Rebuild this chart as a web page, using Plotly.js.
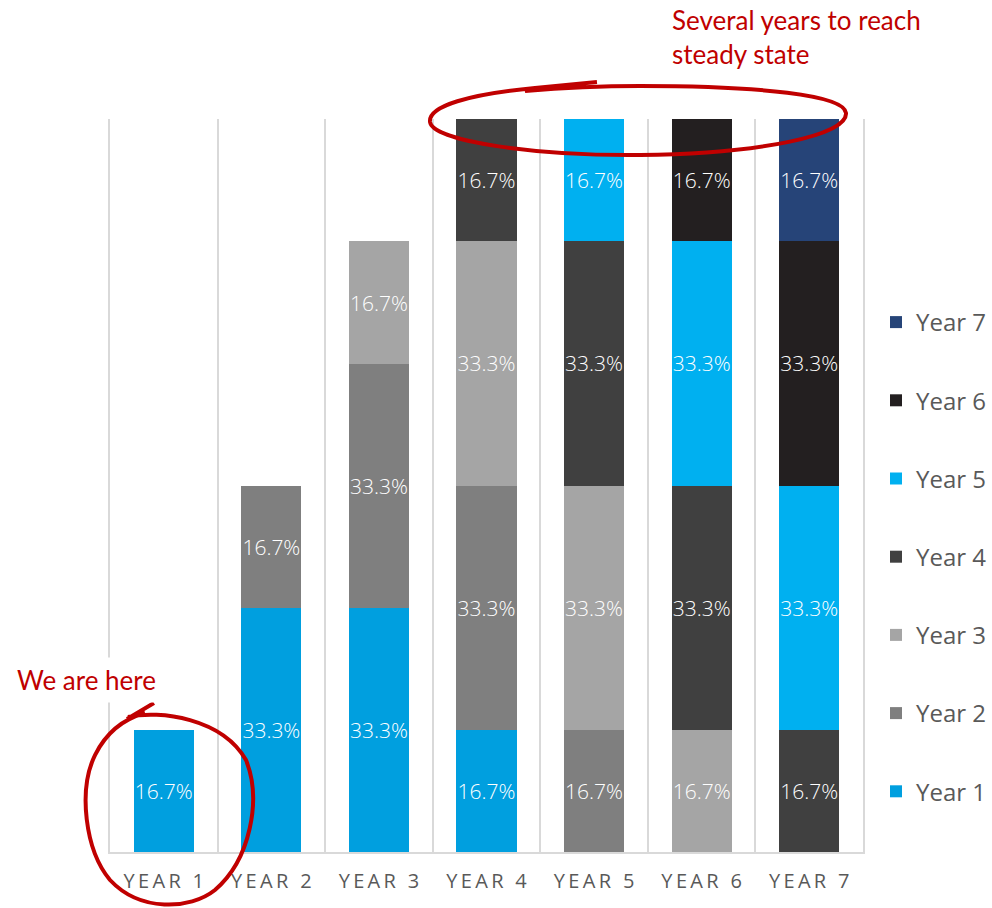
<!DOCTYPE html>
<html>
<head>
<meta charset="utf-8">
<script src="https://cdn.plot.ly/plotly-3.0.1.min.js"></script>
<style>
  html, body { margin: 0; padding: 0; background: #ffffff; }
  #chart { width: 992px; height: 908px; }
</style>
</head>
<body>
<div id="chart"></div>
<script>
// Categories along the x axis
const categories = ['YEAR 1', 'YEAR 2', 'YEAR 3', 'YEAR 4', 'YEAR 5', 'YEAR 6', 'YEAR 7'];

// Share (%) contributed by each cohort in each year; null = no contribution
const year1 = [16.7, 33.3, 33.3, 16.7, null, null, null];
const year2 = [null, 16.7, 33.3, 33.3, 16.7, null, null];
const year3 = [null, null, 16.7, 33.3, 33.3, 16.7, null];
const year4 = [null, null, null, 16.7, 33.3, 33.3, 16.7];
const year5 = [null, null, null, null, 16.7, 33.3, 33.3];
const year6 = [null, null, null, null, null, 16.7, 33.3];
const year7 = [null, null, null, null, null, null, 16.7];

const seriesNames = ['Year 1', 'Year 2', 'Year 3', 'Year 4', 'Year 5', 'Year 6', 'Year 7'];
const seriesValues = [year1, year2, year3, year4, year5, year6, year7];
const seriesColors = ['#009FDF', '#7F7F7F', '#A5A5A5', '#404040', '#00B0F0', '#231F20', '#264478'];

// Spaced-out tick text for the category labels
const tickText = categories.map(c => c.split('').join('\u2009'));

const labelFont = 'Open Sans, Lato, sans-serif';
const handFont = 'Segoe Print, Comic Sans MS, Lato, cursive';

const traces = seriesNames.map((name, i) => ({
  type: 'bar',
  name: name,
  x: categories,
  y: seriesValues[i],
  marker: { color: seriesColors[i], line: { width: 0 } },
  text: seriesValues[i].map(v => v === null ? '' : v.toFixed(1) + '%'),
  texttemplate: '%{text}',
  textposition: 'inside',
  insidetextanchor: 'middle',
  textangle: 0,
  constraintext: 'none',
  insidetextfont: { family: labelFont, size: 21, color: '#ffffff', weight: 300 },
  legendgroup: name,
  legendrank: 100 - i,   // newest cohort listed first
  hoverinfo: 'skip'
}));

// Plot-area geometry (pixels) used to place the hand-drawn circles
const W = 992, H = 908;
const M = { l: 110, r: 129, t: 119, b: 56 };
const pw = W - M.l - M.r, ph = H - M.t - M.b;
const px = x => ((x - M.l) / pw).toFixed(4);
const py = y => ((H - M.b - y) / ph).toFixed(4);
function pathFrom(cmds) {
  return cmds.map(c => {
    const op = c[0];
    const pts = [];
    for (let k = 1; k < c.length; k += 2) pts.push(px(c[k]) + ',' + py(c[k + 1]));
    return op + ' ' + pts.join(' ');
  }).join(' ');
}

const ringTop = pathFrom([
  ['M', 597, 82], ['L', 535, 88],
  ['C', 470, 94, 428, 106, 430, 122],
  ['C', 433, 142, 540, 156, 640, 155],
  ['C', 760, 154, 848, 135, 846, 113],
  ['C', 844, 95, 760, 86, 640, 86],
  ['C', 600, 86, 560, 88, 525, 91]
]);
const ringHere = pathFrom([
  ['M', 154, 703], ['L', 127, 719],
  ['M', 128, 717],
  ['C', 160, 710, 222, 718, 246, 760],
  ['C', 262, 800, 250, 860, 215, 890],
  ['C', 190, 910, 140, 912, 110, 880],
  ['C', 85, 850, 78, 790, 95, 755],
  ['C', 105, 735, 120, 720, 145, 713]
]);

const layout = {
  width: W,
  height: H,
  margin: Object.assign({ autoexpand: false }, M),
  paper_bgcolor: '#ffffff',
  plot_bgcolor: '#ffffff',
  barmode: 'stack',
  bargap: 0.44,
  showlegend: true,
  legend: {
    xref: 'container', yref: 'container',
    x: 876 / W, xanchor: 'left',
    y: 1 - 557 / H, yanchor: 'middle',
    maxheight: 900,
    traceorder: 'grouped',
    tracegroupgap: 44,
    font: { family: labelFont, size: 24, color: '#595959' },
    itemwidth: 30,
    bgcolor: 'rgba(0,0,0,0)'
  },
  xaxis: {
    type: 'category',
    tickmode: 'array',
    tickvals: categories,
    ticktext: tickText,
    tickson: 'boundaries',
    ticks: '',
    showgrid: true,
    gridcolor: '#D9D9D9',
    gridwidth: 2,
    showline: true,
    linecolor: '#D9D9D9',
    linewidth: 2,
    ticklabelstandoff: 10,
    tickfont: { family: labelFont, size: 20, color: '#595959' },
    zeroline: false,
    fixedrange: true
  },
  yaxis: {
    range: [0, 100],
    showticklabels: false,
    ticks: '',
    showgrid: false,
    zeroline: false,
    showline: true,
    mirror: true,
    linecolor: '#D9D9D9',
    linewidth: 2,
    fixedrange: true
  },
  shapes: [
    { type: 'path', xref: 'paper', yref: 'paper', path: ringTop,
      line: { color: '#C00000', width: 4 }, layer: 'above' },
    { type: 'path', xref: 'paper', yref: 'paper', path: ringHere,
      line: { color: '#C00000', width: 4 }, layer: 'above' }
  ],
  annotations: [
    {
      xref: 'paper', yref: 'paper',
      x: (670 - M.l) / pw, xanchor: 'left',
      y: (H - M.b - 2) / ph, yanchor: 'top',
      text: 'Several years to reach<br>steady state',
      align: 'left', showarrow: false,
      font: { family: handFont, size: 26, color: '#C00000' }
    },
    {
      xref: 'paper', yref: 'paper',
      x: (10 - M.l) / pw, xanchor: 'left',
      y: (H - M.b - 680) / ph, yanchor: 'middle',
      text: 'We are here',
      showarrow: false, bgcolor: '#ffffff', borderpad: 6,
      font: { family: handFont, size: 26, color: '#C00000' }
    }
  ]
};

Plotly.newPlot('chart', traces, layout, { displayModeBar: false, staticPlot: true });
</script>
</body>
</html>
